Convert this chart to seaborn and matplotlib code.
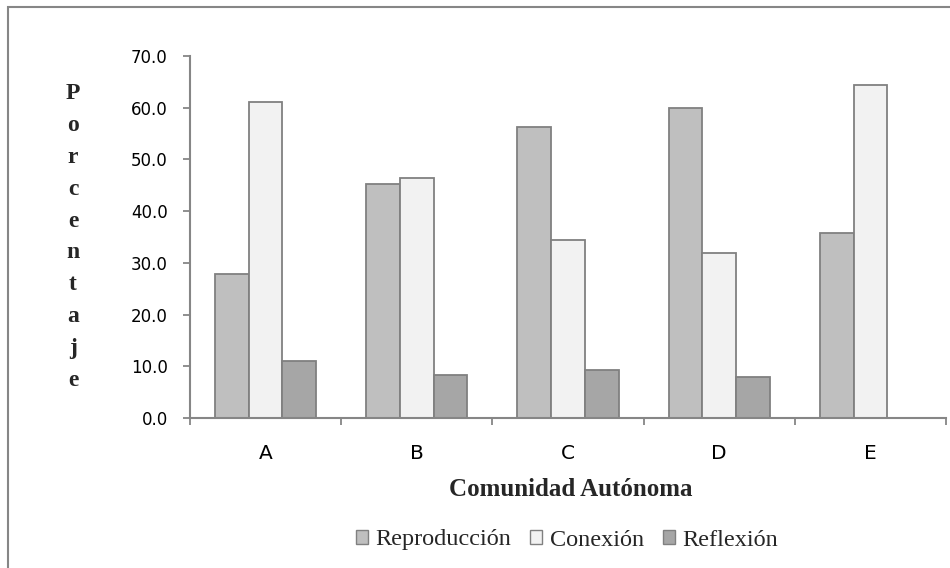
import matplotlib
matplotlib.use("Agg")
import matplotlib.pyplot as plt
import seaborn as sns
import pandas as pd
from matplotlib.patches import Rectangle, Patch

categories = ["A", "B", "C", "D", "E"]
series = ["Reproducción", "Conexión", "Reflexión"]
reproduccion = [27.8, 45.3, 56.3, 60.0, 35.7]
conexion = [61.1, 46.4, 34.4, 32.0, 64.4]
reflexion = [11.0, 8.3, 9.3, 8.0, 0.0]
yticks = [0, 10, 20, 30, 40, 50, 60, 70]
colors = ["#BFBFBF", "#F2F2F2", "#A6A6A6"]

rows = []
for name, vals in zip(series, [reproduccion, conexion, reflexion]):
    for c, v in zip(categories, vals):
        rows.append({"cat": c, "serie": name, "val": v})
df = pd.DataFrame(rows)

sns.set_theme(style="white")
plt.rcParams["font.family"] = ["DejaVu Sans"]
serif = ["Liberation Serif", "DejaVu Serif"]

fig = plt.figure(figsize=(9.5, 5.68), dpi=100)
ax = fig.add_axes([190/950, 1-418/568, (946-190)/950, (418-56)/568])

sns.barplot(data=df, x="cat", y="val", hue="serie", order=categories,
            hue_order=series, palette=colors, width=0.67,
            edgecolor="#808080", linewidth=1.3, ax=ax, legend=False)

ax.set_ylim(0, 70)
ax.set_xlim(-0.5, 4.5)
ax.set_yticks(yticks)
ax.set_yticklabels([f"{t:.1f}" for t in yticks], fontsize=12)
ax.set_xticks(range(len(categories)))
ax.set_xticklabels(categories, fontsize=14.5)
ax.set_xticks([i - 0.5 for i in range(len(categories) + 1)], minor=True)
ax.tick_params(axis="x", which="major", length=0, pad=19, colors="black")
ax.tick_params(axis="x", which="minor", bottom=True, length=5, width=1.3,
               color="#868686", direction="out")
ax.tick_params(axis="y", which="major", left=True, length=5, width=1.3,
               color="#868686", pad=11, direction="out", labelcolor="black")
for s in ["top", "right"]:
    ax.spines[s].set_visible(False)
for s in ["left", "bottom"]:
    ax.spines[s].set_color("#868686")
    ax.spines[s].set_linewidth(1.5)
ax.set_xlabel("")
ax.set_ylabel("")
ax.grid(False)

# vertical stacked y label
fig.text(73/950, 1-237/568, "\n".join("Porcentaje"), ha="center", va="center",
         fontsize=17, fontweight="bold", family=serif, linespacing=1.68)

fig.text(571/950, 1-489/568, "Comunidad Autónoma", ha="center", va="center",
         fontsize=18, fontweight="bold", family=serif)

handles = [Patch(facecolor=c, edgecolor="#808080", linewidth=1.0, label=n)
           for c, n in zip(colors, series)]
fig.legend(handles=handles, loc="center", bbox_to_anchor=(567/950, 1-540/568),
           ncol=3, frameon=False, handlelength=0.5, handleheight=0.5,
           handletextpad=0.3, columnspacing=0.8,
           prop={"family": serif, "size": 17.5})

fig.patches.append(Rectangle((8/950, -0.1), 1.2, 1 - 7/568 + 0.1, transform=fig.transFigure,
                             fill=False, edgecolor="#868686", linewidth=1.5))

fig.savefig("out.png", dpi=100)
